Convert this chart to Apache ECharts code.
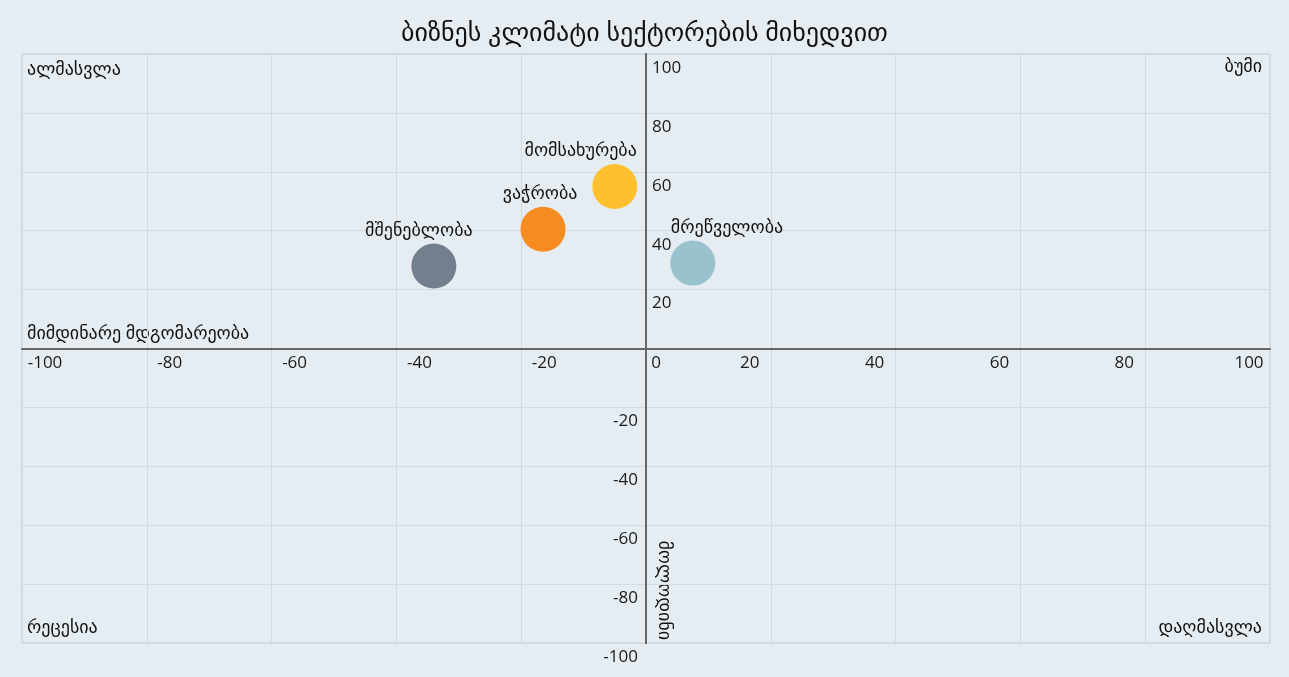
<!DOCTYPE html>
<html>
<head>
<meta charset="utf-8">
<script src="https://cdn.jsdelivr.net/npm/echarts@6/dist/echarts.min.js"></script>
<style>
html,body{margin:0;padding:0;background:#e5edf3;}
#chart{width:1289px;height:677px;}
</style>
</head>
<body>
<div id="chart"></div>
<script>
// ---- data ----
const sectors = ['მშენებლობა', 'ვაჭრობა', 'მომსახურება', 'მრეწველობა'];
const currentState = [-34, -16.5, -5, 7.5];      // x
const expectations = [28, 40.5, 55, 29];          // y
const xTickLabels = ['-100', '-80', '-60', '-40', '-20', '0', '20', '40', '60', '80', '100'];
const yTickLabels = ['-100', '-80', '-60', '-40', '-20', '', '20', '40', '60', '80', '100'];
const quadrantNames = ['ალმასვლა', 'ბუმი', 'რეცესია', 'დაღმასვლა'];
const titleText = 'ბიზნეს კლიმატი სექტორების მიხედვით';
const xAxisName = 'მიმდინარე მდგომარეობა';
const yAxisName = 'მოლოდინი';

// ---- styles ----
const FONT = '"Open Sans", "DejaVu Sans", sans-serif';
const palette = ['#737f8c', '#f68b1f', '#fec02f', '#99c1ce'];
const W = 1289, H = 677;
const G = {left: 22, right: 19, top: 54, bottom: 34};
const plotW = W - G.left - G.right, plotH = H - G.top - G.bottom;
const labelStyles = [
  {align: 'center', offset: [-15, 0]},
  {align: 'center', offset: [-3, 0]},
  {align: 'right', offset: [22, 0]},
  {align: 'left', offset: [-22, 0]}
];
const tickVals = [-100, -80, -60, -40, -20, 0, 20, 40, 60, 80, 100];
function xLabel(v) {
  const i = tickVals.indexOf(Math.round(v));
  if (i < 0) return '';
  const t = xTickLabels[i];
  if (v < 0) return '{n|' + t + '}';
  if (v === 0) return '{z|' + t + '}';
  return '{p|' + t + '}';
}
function yLabel(v, positive) {
  const i = tickVals.indexOf(Math.round(v));
  if (i < 0) return '';
  if (positive && v <= 0) return '';
  if (!positive && v >= 0) return '';
  return '{a|' + yTickLabels[i] + '}';
}
const txt = {color: '#1a1a1a', fontSize: 17, fontFamily: FONT};
const gtxt = {fill: '#111', fontSize: 18, fontFamily: FONT};

const chart = echarts.init(document.getElementById('chart'));
chart.setOption({
  backgroundColor: '#e5edf3',
  animation: false,
  title: {
    text: titleText, left: 'center', top: 16,
    textStyle: {color: '#111', fontSize: 26, fontWeight: 'normal', fontFamily: FONT}
  },
  grid: {
    left: G.left, right: G.right, top: G.top, bottom: G.bottom,
    containLabel: false, outerBoundsMode: 'none',
    show: true, borderColor: '#bfc5ca', borderWidth: 1, backgroundColor: '#e5edf3'
  },
  xAxis: {
    type: 'value', min: -100, max: 100, interval: 20,
    position: 'bottom', offset: -plotH / 2,
    axisLine: {onZero: false, lineStyle: {color: '#666', width: 2}},
    axisTick: {show: false},
    splitLine: {lineStyle: {color: '#d3d9de', width: 1}},
    axisLabel: {
      showMinLabel: true, showMaxLabel: true, margin: 6, align: 'center',
      formatter: xLabel,
      rich: {
        n: Object.assign({padding: [0, 0, 0, 46]}, txt),
        z: Object.assign({padding: [0, 0, 0, 20]}, txt),
        p: Object.assign({padding: [0, 42, 0, 0]}, txt)
      }
    }
  },
  yAxis: [
    {
      type: 'value', min: -100, max: 100, interval: 20, position: 'left',
      offset: -plotW / 2,
      axisLine: {onZero: false, lineStyle: {color: '#666', width: 2}},
      axisTick: {show: false},
      splitLine: {lineStyle: {color: '#d3d9de', width: 1}},
      axisLabel: {
        inside: true, margin: 6, showMinLabel: true, showMaxLabel: true,
        formatter: v => yLabel(v, true),
        rich: {a: Object.assign({padding: [28, 0, 0, 0]}, txt)}
      }
    },
    {
      type: 'value', min: -100, max: 100, interval: 20, position: 'left',
      offset: -plotW / 2,
      axisLine: {onZero: false, lineStyle: {color: '#666', width: 2}},
      axisTick: {show: false},
      splitLine: {show: false},
      axisLabel: {
        inside: false, margin: 8, showMinLabel: true, showMaxLabel: true,
        formatter: v => yLabel(v, false),
        rich: {a: Object.assign({padding: [28, 0, 0, 0]}, txt)}
      }
    }
  ],
  series: [{
    type: 'scatter',
    yAxisIndex: 0,
    symbolSize: 45,
    data: sectors.map((s, i) => ({
      name: s,
      value: [currentState[i], expectations[i]],
      itemStyle: {color: palette[i], opacity: 1},
      label: Object.assign({}, labelStyles[i])
    })),
    label: {
      show: true, position: 'top', distance: 4,
      formatter: p => p.name,
      color: '#111', fontSize: 18, fontFamily: FONT
    },
    emphasis: {disabled: true}
  }],
  graphic: [
    {type: 'text', left: 27, top: 61, style: Object.assign({text: quadrantNames[0]}, gtxt)},
    {type: 'text', right: 27, top: 58, style: Object.assign({text: quadrantNames[1]}, gtxt)},
    {type: 'text', left: 27, top: 619, style: Object.assign({text: quadrantNames[2]}, gtxt)},
    {type: 'text', right: 27, top: 619, style: Object.assign({text: quadrantNames[3]}, gtxt)},
    {type: 'text', left: 27, top: 325, style: Object.assign({text: xAxisName}, gtxt)},
    {type: 'text', x: 664, y: 640, rotation: -Math.PI / 2,
      style: Object.assign({text: yAxisName, align: 'right', verticalAlign: 'middle'}, gtxt)}
  ]
});
</script>
</body>
</html>
